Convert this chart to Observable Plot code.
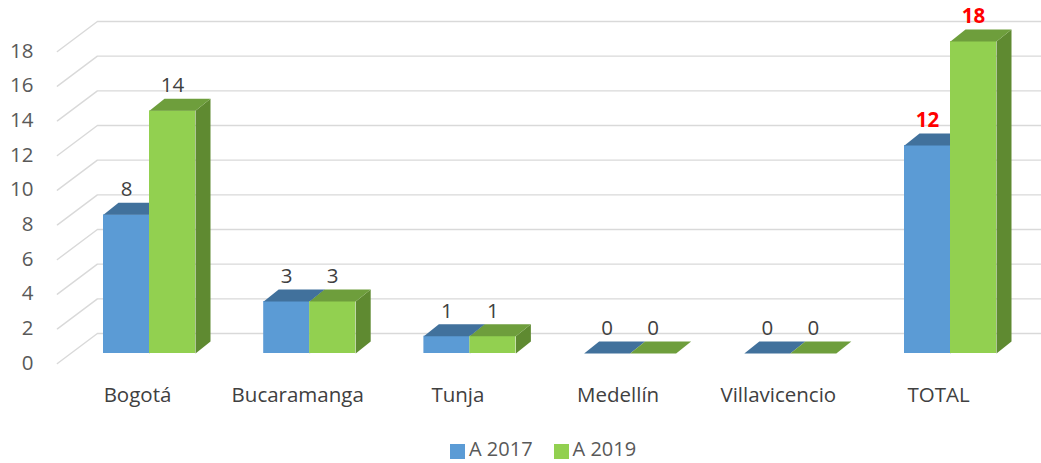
<!DOCTYPE html>
<html>
<head>
<meta charset="utf-8">
<script src="https://cdn.jsdelivr.net/npm/d3@7"></script>
<script src="https://cdn.jsdelivr.net/npm/@observablehq/plot@0.6"></script>
<style>
  html, body { margin: 0; padding: 0; background: #fff; }
  #chart { width: 1041px; height: 432px; }
  #legend { width: 1041px; height: 31px; position: relative;
    font-family: "Open Sans", sans-serif; font-size: 20px; line-height: 22px; color: #595959; }
  #legend .row { position: absolute; left: 450px; top: 6px; height: 22px; display: flex; align-items: center; gap: 21px; }
  #legend .item { display: flex; align-items: center; height: 22px; }
  #legend .sw { width: 15px; height: 15px; margin-right: 4px; margin-top: 4px; }
</style>
</head>
<body>
<div id="chart"></div>
<div id="legend"><div class="row"></div></div>
<script>
// ---- data ----
const categories = ["Bogotá", "Bucaramanga", "Tunja", "Medellín", "Villavicencio", "TOTAL"];
const seriesNames = ["A 2017", "A 2019"];
const values2017 = [8, 3, 1, 0, 0, 12];
const values2019 = [14, 3, 1, 0, 0, 18];
const yTicks = [0, 2, 4, 6, 8, 10, 12, 14, 16, 18];

// ---- styles ----
const frontColors = ["#5B9BD5", "#92D050"];
const topColors = ["#41719C", "#6E9E3C"];
const sideColors = ["#41719C", "#5F8A31"];
const font = "Open Sans, sans-serif";
const fs = 20.5;

// ---- scale geometry (pixels) ----
const W = 1041, H = 432;
const xRange = [68.9, 1030.1];           // category index 0..6
const yRange = [353, 41];                // value 0..18 on the bar front plane
const pxX = 6 / (xRange[1] - xRange[0]);   // x units per pixel
const pxY = 18 / (yRange[0] - yRange[1]);  // y units per pixel
const halfBar = 46 * pxX;                 // width of one bar in x units
const depthX = 15 * pxX, depthY = 12 * pxY;      // bar depth offset
const backX = 28 * pxX, backY = 20 * pxY;        // back wall offset from bar plane
const frontX = -12 * pxX, frontY = -10 * pxY;    // floor front edge offset

const bars = [];
categories.forEach((c, i) => {
  [values2017[i], values2019[i]].forEach((v, s) => {
    const x1 = i + 0.5 + (s - 1) * halfBar;
    bars.push({cat: c, s, v, x1, x2: x1 + halfBar, id: `${i}-${s}`, total: c === "TOTAL"});
  });
});

function topPoly(b) {
  return [
    {id: b.id, x: b.x1, y: b.v}, {id: b.id, x: b.x2, y: b.v},
    {id: b.id, x: b.x2 + depthX, y: b.v + depthY}, {id: b.id, x: b.x1 + depthX, y: b.v + depthY},
    {id: b.id, x: b.x1, y: b.v}
  ];
}
function sidePoly(b) {
  return [
    {id: b.id, x: b.x2, y: 0}, {id: b.id, x: b.x2, y: b.v},
    {id: b.id, x: b.x2 + depthX, y: b.v + depthY}, {id: b.id, x: b.x2 + depthX, y: depthY},
    {id: b.id, x: b.x2, y: 0}
  ];
}

const grid = yTicks.flatMap(t => [
  {t, x: 0 + frontX, y: t + frontY},
  {t, x: 0 + backX, y: t + backY},
  {t, x: 6.2, y: t + backY}
]);

const marks = [
  Plot.line(grid, {x: "x", y: "y", z: "t", stroke: "#D9D9D9", strokeWidth: 1.4}),
  Plot.text(yTicks, {x: 0 + frontX, y: d => d, dx: -24, dy: 9.5, text: d => String(d), textAnchor: "end",
    fontSize: fs, fontFamily: font, fill: "#595959"})
];
for (let s = 0; s < 2; s++) {
  const bs = bars.filter(b => b.s === s);
  marks.push(
    Plot.rect(bs, {x1: "x1", x2: "x2", y1: 0, y2: "v", fill: frontColors[s]}),
    Plot.line(bs.flatMap(sidePoly), {x: "x", y: "y", z: "id", fill: sideColors[s], stroke: "none"}),
    Plot.line(bs.flatMap(topPoly), {x: "x", y: "y", z: "id", fill: topColors[s], stroke: "none"})
  );
}
marks.push(
  Plot.text(bars.filter(b => !b.total), {x: b => (b.x1 + b.x2) / 2, y: "v", dy: -25, text: b => String(b.v),
    fontSize: fs, fontFamily: font, fill: "#404040"}),
  Plot.text(bars.filter(b => b.total), {x: b => (b.x1 + b.x2) / 2, y: "v", dy: -25, text: b => String(b.v),
    fontSize: fs, fontFamily: font, fontWeight: "bold", fill: "#FF0000"}),
  Plot.text(categories, {x: (d, i) => i + 0.5, y: 0, dx: -12, dy: 42, text: d => d,
    fontSize: fs, fontFamily: font, fill: "#404040"})
);

const chart = Plot.plot({
  width: W, height: H,
  margin: 0,
  x: {type: "linear", domain: [0, 6], range: xRange, axis: null},
  y: {type: "linear", domain: [0, 18], range: yRange, axis: null},
  style: {background: "#fff", overflow: "visible"},
  marks
});
chart.style.display = "block";
document.getElementById("chart").appendChild(chart);

const row = document.querySelector("#legend .row");
seriesNames.forEach((n, s) => {
  const it = document.createElement("div");
  it.className = "item";
  it.innerHTML = `<span class="sw" style="background:${frontColors[s]}"></span><span>${n}</span>`;
  row.appendChild(it);
});
</script>
</body>
</html>
